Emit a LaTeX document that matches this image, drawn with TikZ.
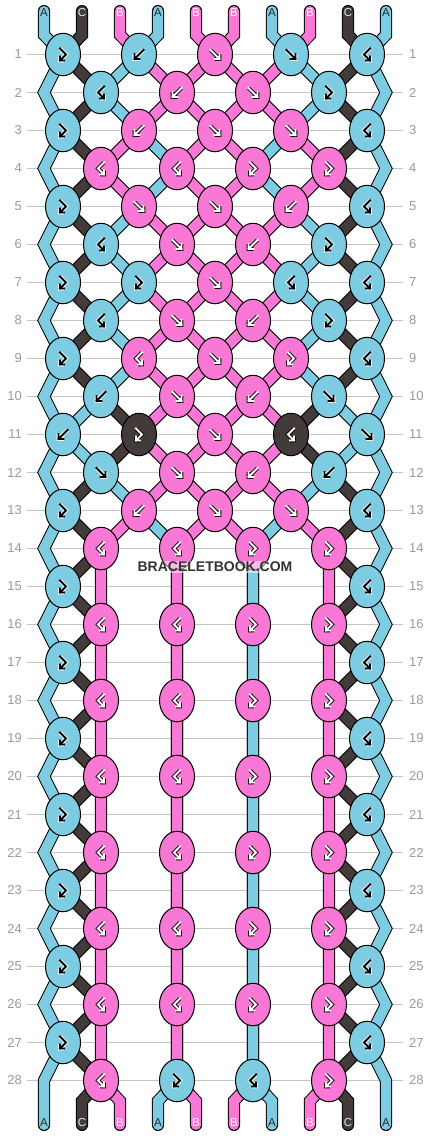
\documentclass[tikz,border=0pt]{standalone}
\usepackage{fontspec}
\setmainfont{Liberation Sans}
\usetikzlibrary{shapes.geometric}
\pgfdeclarelayer{background}
\pgfsetlayers{background,main}

\definecolor{threadA}{HTML}{7ECCE1}
\definecolor{threadB}{HTML}{F978D6}
\definecolor{threadC}{HTML}{433B39}
\definecolor{rowgrey}{HTML}{C4C4C4}
\definecolor{labelgrey}{HTML}{9A9A9A}
\definecolor{labA}{HTML}{2A2A2A}
\definecolor{labB}{HTML}{FFFFFF}
\definecolor{labC}{HTML}{E6E6E6}

\tikzset{
    thread/.style={line width=1pt, double=#1, double distance=10.2pt,
        line cap=round, line join=miter},
    knot/.style={ellipse, draw, line width=1pt, fill=#1,
        minimum width=35pt, minimum height=42.5pt, inner sep=0pt},
    glyphA/.style={draw=black, line width=1.8pt, line cap=rect, line join=miter,
        preaction={draw=white, line width=3.8pt}},
    glyphB/.style={draw=white, line width=1.8pt, line cap=rect, line join=miter,
        preaction={draw=black, line width=3.8pt}},
    glyphC/.style={glyphB},
    rowline/.style={draw=rowgrey, line width=1.2pt},
    rowlab/.style={text=labelgrey, font=\fontsize{13}{14}\selectfont, inner sep=0pt},
    strlab/.style={font=\fontsize{11.5}{12}\selectfont, inner sep=0pt}
}

% arrow glyphs: forward, backward, forward-backward, backward-forward
\newcommand\glyphf[2]{\draw[#2, shift={(#1.center)}] (-4.5,-4.5) -- (4.5,4.5) (4.5,-0.5) -- (4.5,4.5) -- (-0.5,4.5);}
\newcommand\glyphb[2]{\draw[#2, shift={(#1.center)}] (4.5,-4.5) -- (-4.5,4.5) (-4.5,-0.5) -- (-4.5,4.5) -- (0.5,4.5);}
\newcommand\glyphfb[2]{\draw[#2, shift={(#1.center)}] (-3,-6) -- (3,0) -- (-3,6) (-3,2) -- (-3,6) -- (1,6);}
\newcommand\glyphbf[2]{\draw[#2, shift={(#1.center)}] (3,-6) -- (-3,0) -- (3,6) (3,2) -- (3,6) -- (-1,6);}

% row, column, thread letter, knot type
\newcommand\knotat[4]{%
    \node[knot=thread#3] (k#1-#2) at ({63+38*#2},{16.5+38*#1}) {};
    \csname glyph#4\endcsname{k#1-#2}{glyph#3}}

\begin{document}
\begin{tikzpicture}[x=1pt, y=-1pt]
    \useasboundingbox (0,0) rectangle (430,1136);

    % knots
    \foreach \c/\t/\g in {0/A/fb,2/A/b,4/B/f,6/A/f,8/A/bf} {\knotat{1}{\c}{\t}{\g}}
    \foreach \c/\t/\g in {1/A/bf,3/B/b,5/B/f,7/A/fb} {\knotat{2}{\c}{\t}{\g}}
    \foreach \c/\t/\g in {0/A/fb,2/B/b,4/B/f,6/B/f,8/A/bf} {\knotat{3}{\c}{\t}{\g}}
    \foreach \c/\t/\g in {1/B/bf,3/B/bf,5/B/fb,7/B/fb} {\knotat{4}{\c}{\t}{\g}}
    \foreach \c/\t/\g in {0/A/fb,2/B/f,4/B/f,6/B/b,8/A/bf} {\knotat{5}{\c}{\t}{\g}}
    \foreach \c/\t/\g in {1/A/bf,3/B/f,5/B/b,7/A/fb} {\knotat{6}{\c}{\t}{\g}}
    \foreach \c/\t/\g in {0/A/fb,2/A/fb,4/B/f,6/A/bf,8/A/bf} {\knotat{7}{\c}{\t}{\g}}
    \foreach \c/\t/\g in {1/A/bf,3/B/f,5/B/b,7/A/fb} {\knotat{8}{\c}{\t}{\g}}
    \foreach \c/\t/\g in {0/A/fb,2/B/bf,4/B/f,6/B/fb,8/A/bf} {\knotat{9}{\c}{\t}{\g}}
    \foreach \c/\t/\g in {1/A/b,3/B/f,5/B/b,7/A/f} {\knotat{10}{\c}{\t}{\g}}
    \foreach \c/\t/\g in {0/A/b,2/C/fb,4/B/f,6/C/bf,8/A/f} {\knotat{11}{\c}{\t}{\g}}
    \foreach \c/\t/\g in {1/A/f,3/B/f,5/B/b,7/A/b} {\knotat{12}{\c}{\t}{\g}}
    \foreach \c/\t/\g in {0/A/fb,2/B/b,4/B/f,6/B/f,8/A/bf} {\knotat{13}{\c}{\t}{\g}}
    \foreach \c/\t/\g in {1/B/bf,3/B/bf,5/B/fb,7/B/fb} {\knotat{14}{\c}{\t}{\g}}
    \foreach \r in {15,17,...,27} {\knotat{\r}{0}{A}{fb} \knotat{\r}{8}{A}{bf}}
    \foreach \r in {16,18,...,26} {
        \foreach \c/\t/\g in {1/B/bf,3/B/bf,5/B/fb,7/B/fb} {\knotat{\r}{\c}{\t}{\g}}
    }
    \foreach \c/\t/\g in {1/B/bf,3/A/fb,5/A/bf,7/B/fb} {\knotat{28}{\c}{\t}{\g}}

    % bends at the edges, string ends
    \foreach \r in {2,4,...,28} {
        \coordinate (L\r) at (44,{16.5+38*\r});
        \coordinate (R\r) at (386,{16.5+38*\r});
    }
    \foreach \i in {0,...,9} {
        \coordinate (t\i) at ({44+38*\i},11.1);
        \coordinate (u\i) at ({44+38*\i},35);
        \coordinate (v\i) at ({44+38*\i},1101);
        \coordinate (w\i) at ({44+38*\i},1124.9);
    }

    \begin{pgfonlayer}{background}
        \fill[white] (0,0) rectangle (430,1136);
        \foreach \r in {1,...,28}
            \draw[rowline] (27,{16.5+38*\r}) -- (403,{16.5+38*\r});
        % threads, left to right
        \draw[thread=threadA] (t0) -- (u0) -- (k1-0.center) -- (L2) -- (k3-0.center) -- (L4)
            -- (k5-0.center) -- (L6) -- (k7-0.center) -- (L8) -- (k9-0.center) -- (L10)
            -- (k11-0.center) -- (k12-1.center) -- (k13-2.center) -- (k14-3.center)
            \foreach \r in {16,18,...,28} { -- (k\r-3.center) } -- (v3) -- (w3);
        \draw[thread=threadC] (t1) -- (u1) -- (k1-0.center) -- (k2-1.center) -- (k3-0.center)
            -- (k4-1.center) -- (k5-0.center) -- (k6-1.center) -- (k7-0.center) -- (k8-1.center)
            -- (k9-0.center) -- (k10-1.center) -- (k11-2.center) -- (k12-1.center)
            -- (k13-0.center) -- (k14-1.center)
            \foreach \r/\s in {15/16,17/18,19/20,21/22,23/24,25/26,27/28}
                { -- (k\r-0.center) -- (k\s-1.center) } -- (v1) -- (w1);
        \draw[thread=threadB] (t2) -- (u2) -- (k1-2.center) -- (k2-3.center) -- (k3-4.center)
            -- (k4-5.center) -- (k5-4.center) -- (k6-3.center) -- (k7-2.center) -- (k8-3.center)
            -- (k9-4.center) -- (k10-5.center) -- (k11-6.center) -- (k12-5.center)
            -- (k13-4.center) -- (k14-3.center)
            \foreach \r in {16,18,...,28} { -- (k\r-3.center) } -- (v4) -- (w4);
        \draw[thread=threadA] (t3) -- (u3) -- (k1-2.center) -- (k2-1.center) -- (k3-2.center)
            -- (k4-3.center) -- (k5-2.center) -- (k6-1.center) -- (k7-2.center) -- (k8-1.center)
            -- (k9-2.center) -- (k10-1.center) -- (k11-0.center) -- (L12) -- (k13-0.center) -- (L14)
            \foreach \r/\s in {15/16,17/18,19/20,21/22,23/24,25/26,27/28}
                { -- (k\r-0.center) -- (L\s) } -- (w0);
        \draw[thread=threadB] (t4) -- (u4) -- (k1-4.center) -- (k2-5.center) -- (k3-6.center)
            -- (k4-7.center) -- (k5-6.center) -- (k6-5.center) -- (k7-4.center) -- (k8-3.center)
            -- (k9-2.center) -- (k10-3.center) -- (k11-4.center) -- (k12-5.center)
            -- (k13-6.center) -- (k14-7.center)
            \foreach \r in {16,18,...,28} { -- (k\r-7.center) } -- (v7) -- (w7);
        \draw[thread=threadB] (t5) -- (u5) -- (k1-4.center) -- (k2-3.center) -- (k3-2.center)
            -- (k4-1.center) -- (k5-2.center) -- (k6-3.center) -- (k7-4.center) -- (k8-5.center)
            -- (k9-6.center) -- (k10-5.center) -- (k11-4.center) -- (k12-3.center)
            -- (k13-2.center) -- (k14-1.center)
            \foreach \r in {16,18,...,28} { -- (k\r-1.center) } -- (v2) -- (w2);
        \draw[thread=threadA] (t6) -- (u6) -- (k1-6.center) -- (k2-7.center) -- (k3-6.center)
            -- (k4-5.center) -- (k5-6.center) -- (k6-7.center) -- (k7-6.center) -- (k8-7.center)
            -- (k9-6.center) -- (k10-7.center) -- (k11-8.center) -- (R12) -- (k13-8.center) -- (R14)
            \foreach \r/\s in {15/16,17/18,19/20,21/22,23/24,25/26,27/28}
                { -- (k\r-8.center) -- (R\s) } -- (w9);
        \draw[thread=threadB] (t7) -- (u7) -- (k1-6.center) -- (k2-5.center) -- (k3-4.center)
            -- (k4-3.center) -- (k5-4.center) -- (k6-5.center) -- (k7-6.center) -- (k8-5.center)
            -- (k9-4.center) -- (k10-3.center) -- (k11-2.center) -- (k12-3.center)
            -- (k13-4.center) -- (k14-5.center)
            \foreach \r in {16,18,...,28} { -- (k\r-5.center) } -- (v5) -- (w5);
        \draw[thread=threadC] (t8) -- (u8) -- (k1-8.center) -- (k2-7.center) -- (k3-8.center)
            -- (k4-7.center) -- (k5-8.center) -- (k6-7.center) -- (k7-8.center) -- (k8-7.center)
            -- (k9-8.center) -- (k10-7.center) -- (k11-6.center) -- (k12-7.center)
            -- (k13-8.center) -- (k14-7.center)
            \foreach \r/\s in {15/16,17/18,19/20,21/22,23/24,25/26,27/28}
                { -- (k\r-8.center) -- (k\s-7.center) } -- (v8) -- (w8);
        \draw[thread=threadA] (t9) -- (u9) -- (k1-8.center) -- (R2) -- (k3-8.center) -- (R4)
            -- (k5-8.center) -- (R6) -- (k7-8.center) -- (R8) -- (k9-8.center) -- (R10)
            -- (k11-8.center) -- (k12-7.center) -- (k13-6.center) -- (k14-5.center)
            \foreach \r in {16,18,...,28} { -- (k\r-5.center) } -- (v6) -- (w6);
    \end{pgfonlayer}

    % row numbers
    \foreach \r in {1,...,28} {
        \node[rowlab, anchor=east] (rl\r) at (22,{16.5+38*\r}) {\r};
        \node[rowlab, anchor=west] (rr\r) at (409,{16.5+38*\r}) {\r};
    }

    % string letters
    \foreach \i/\l in {0/A,1/C,2/B,3/A,4/B,5/B,6/A,7/B,8/C,9/A} {
        \node[strlab, text=lab\l] (top\i) at ({44+38*\i},13) {\l};
        \node[strlab, text=lab\l] (bot\i) at ({44+38*\i},1123) {\l};
    }

    \node[font=\bfseries\fontsize{14}{14}\selectfont, text=black!80, fill=white,
        fill opacity=0.5, text opacity=1, inner sep=1pt] (brand) at (215,567) {BRACELETBOOK.COM};
\end{tikzpicture}
\end{document}
